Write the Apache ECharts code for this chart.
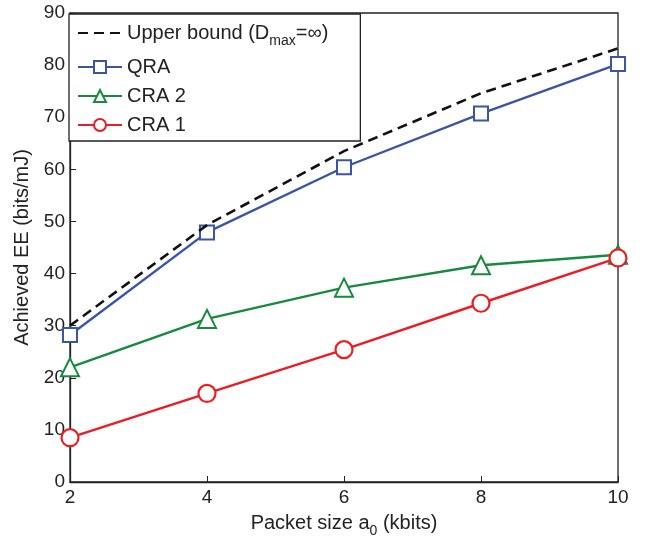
<!DOCTYPE html>
<html><head><meta charset="utf-8">
<script src="https://cdn.jsdelivr.net/npm/echarts@6/dist/echarts.min.js"></script>
<style>html,body{margin:0;padding:0;background:#fff}#c{width:649px;height:540px}</style>
</head><body><div id="c"></div>
<script>
const xValues = [2, 4, 6, 8, 10];
const upperBound = [30.0, 49.3, 63.5, 74.6, 83.2];
const qra = [28.2, 47.9, 60.4, 70.7, 80.2];
const cra2 = [22.0, 31.3, 37.3, 41.6, 43.6];
const cra1 = [8.5, 17.0, 25.4, 34.3, 43.0];
const yTicks = [0, 10, 20, 30, 40, 50, 60, 70, 80, 90];

const font = 'Liberation Sans, Arial, Helvetica, sans-serif';
const pair = (arr) => arr.map((v, i) => [xValues[i], v]);
const chart = echarts.init(document.getElementById('c'));
chart.setOption({
  animation: false,
  backgroundColor: '#fff',
  grid: { left: 70, right: 31, top: 13, bottom: 58, outerBoundsMode: 'none', containLabel: false,
    show: true, borderColor: '#222', borderWidth: 1.3, backgroundColor: 'transparent' },
  xAxis: {
    type: 'value', min: 2, max: 10, interval: 2,
    axisLine: { lineStyle: { color: '#222', width: 1.3 } },
    axisTick: { inside: true, length: 6, lineStyle: { color: '#222' } },
    axisLabel: { color: '#222', fontSize: 19, fontFamily: font, margin: 6 },
    splitLine: { show: false },
    name: '{n|Packet size a}{s|0}{n| (kbits)}',
    nameLocation: 'middle', nameGap: 26,
    nameTextStyle: { rich: { n: { fontSize: 20, fontFamily: font, color: '#222' }, s: { fontSize: 14, fontFamily: font, color: '#222', padding: [16, 0, 0, 0] } } }
  },
  yAxis: {
    type: 'value', min: 0, max: 90, interval: 10,
    axisLine: { show: true, lineStyle: { color: '#222', width: 1.3 } },
    axisTick: { show: true, inside: true, length: 6, lineStyle: { color: '#222' } },
    axisLabel: { color: '#222', fontSize: 19, fontFamily: font, margin: 5, formatter: (v) => yTicks.includes(v) ? String(v) : '' },
    splitLine: { show: false },
    name: 'Achieved EE (bits/mJ)', nameLocation: 'middle', nameGap: 28,
    nameTextStyle: { fontSize: 20, fontFamily: font, color: '#222' }
  },
  legend: {
    orient: 'vertical', left: 69, top: 14,
    backgroundColor: '#fff', borderColor: '#222', borderWidth: 1.3, borderRadius: 0,
    padding: [9, 32, 6, 8], itemGap: 9, itemWidth: 44, itemHeight: 15,
    textStyle: { fontSize: 20, fontFamily: font, color: '#222',
      rich: { n: { fontSize: 20, fontFamily: font, color: '#222' }, s: { fontSize: 14, fontFamily: font, color: '#222', padding: [16, 0, 0, 0] } } },
    data: [{ name: 'Upper bound', itemStyle: { opacity: 0 } }, 'QRA', 'CRA 2', 'CRA 1'],
    formatter: (name) => name === 'Upper bound' ? '{n|Upper bound (D}{s|max}{n|=\u221E)}' : name
  },
  series: [
    { name: 'Upper bound', type: 'line', data: pair(upperBound), symbol: 'none', z: 5,
      lineStyle: { color: '#111', width: 2.6, type: [10, 6] }, itemStyle: { color: '#111' } },
    { name: 'QRA', type: 'line', data: pair(qra), symbol: 'rect', symbolSize: 14,
      lineStyle: { color: '#3a54a6', width: 2.4 }, itemStyle: { color: '#fff', borderColor: '#3a54a6', borderWidth: 2 } },
    { name: 'CRA 2', type: 'line', data: pair(cra2), symbol: 'triangle', symbolSize: 18,
      lineStyle: { color: '#178a3c', width: 2.4 }, itemStyle: { color: '#fff', borderColor: '#178a3c', borderWidth: 2 } },
    { name: 'CRA 1', type: 'line', data: pair(cra1), symbol: 'circle', symbolSize: 17,
      lineStyle: { color: '#ec1c24', width: 2.4 }, itemStyle: { color: '#fff', borderColor: '#ec1c24', borderWidth: 2.2 } }
  ]
});
</script></body></html>
